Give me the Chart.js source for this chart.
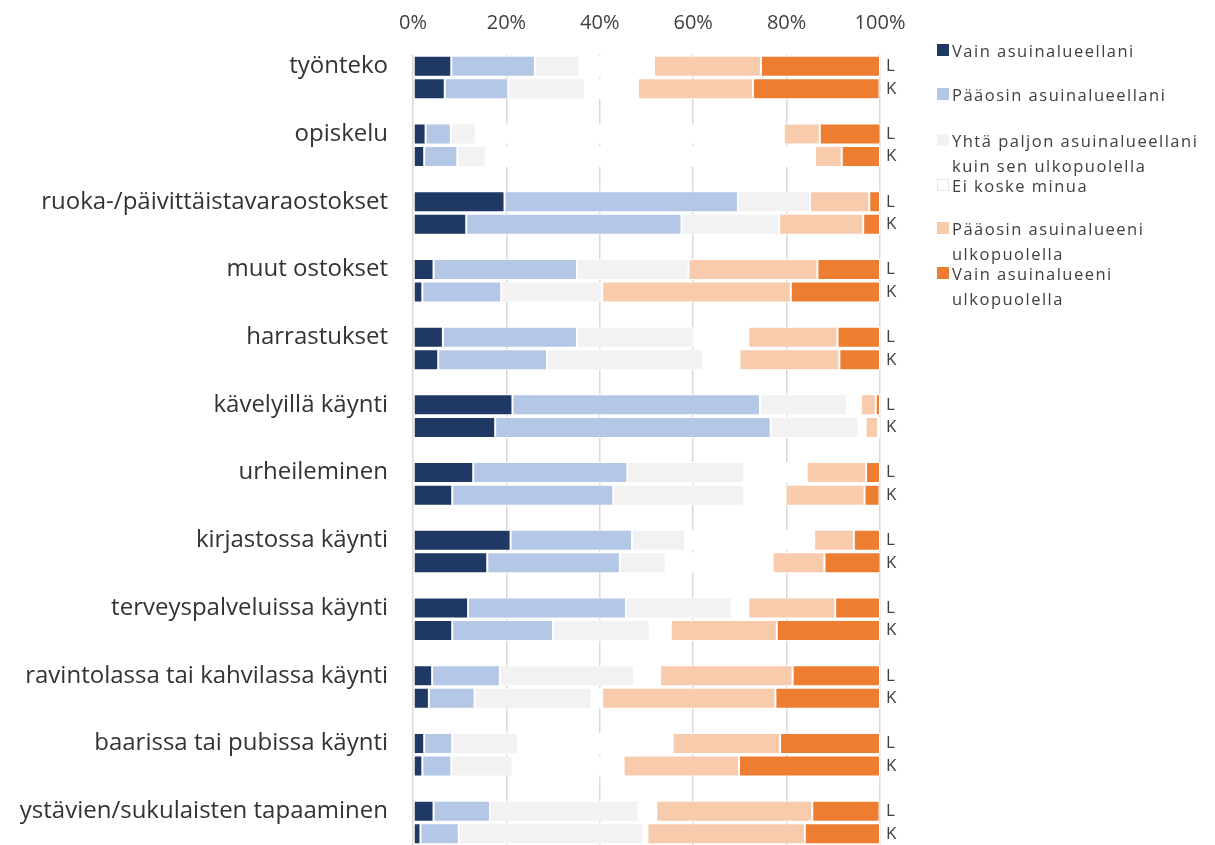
<!DOCTYPE html>
<html>
<head>
<meta charset="utf-8">
<script src="https://cdn.jsdelivr.net/npm/chart.js@4/dist/chart.umd.min.js"></script>
<style>
  html, body { margin: 0; padding: 0; background: #fff; overflow: hidden; }
  #wrap { position: relative; width: 1215px; height: 845px; }
  #c { position: absolute; left: 0; top: 0; }
  .lg { position: absolute; font-family: "Open Sans", sans-serif; font-size: 16.5px; line-height: 25px; color: #404040; white-space: pre; letter-spacing: 1.5px; }
  .sq { position: absolute; width: 12px; height: 12px; box-sizing: border-box; }
</style>
</head>
<body>
<div id="wrap">
  <canvas id="c" width="1215" height="845"></canvas>
</div>
<script>
// ---- DATA ----
const categories = [
  "työnteko", "opiskelu", "ruoka-/päivittäistavaraostokset", "muut ostokset",
  "harrastukset", "kävelyillä käynti", "urheileminen", "kirjastossa käynti",
  "terveyspalveluissa käynti", "ravintolassa tai kahvilassa käynti",
  "baarissa tai pubissa käynti", "ystävien/sukulaisten tapaaminen"
];
const groups = ["L", "K"];
const seriesNames = [
  "Vain asuinalueellani",
  "Pääosin asuinalueellani",
  "Yhtä paljon asuinalueellani\nkuin sen ulkopuolella",
  "Ei koske minua",
  "Pääosin asuinalueeni\nulkopuolella",
  "Vain asuinalueeni\nulkopuolella"
];
const xTicks = [0, 20, 40, 60, 80, 100];
// values in %, order: category1 L, category1 K, category2 L, category2 K, ...
const vainAsuinalueellani = [8.2, 6.8, 2.7, 2.4, 19.6, 11.4, 4.4, 2.0, 6.4, 5.4, 21.3, 17.6, 12.9, 8.4, 20.9, 15.9, 11.8, 8.4, 4.1, 3.4, 2.4, 2.0, 4.4, 1.6];
const paaosinAsuinalueellani = [17.9, 13.6, 5.4, 7.1, 50.0, 46.1, 30.7, 16.9, 28.7, 23.3, 53.0, 59.0, 33.0, 34.5, 26.0, 28.4, 33.8, 21.6, 14.5, 9.8, 6.0, 6.2, 12.1, 8.2];
const yhtaPaljon = [9.6, 16.4, 5.4, 6.1, 15.4, 20.9, 23.9, 21.6, 24.9, 33.4, 18.6, 18.8, 25.0, 28.0, 11.4, 9.8, 22.6, 20.7, 28.8, 25.0, 14.1, 13.1, 31.8, 39.6];
const eiKoskeMinua = [15.9, 11.4, 65.9, 70.5, 0, 0, 0, 0, 11.8, 7.8, 3.0, 1.5, 13.4, 8.9, 27.6, 22.9, 3.6, 4.5, 5.5, 2.3, 33.1, 23.8, 3.8, 0.8];
const paaosinUlkopuolella = [22.9, 24.6, 7.7, 5.7, 12.7, 18.0, 27.6, 40.4, 19.1, 21.4, 3.2, 2.7, 12.7, 16.9, 8.5, 11.1, 18.6, 22.7, 28.4, 37.1, 23.0, 24.7, 33.4, 33.7];
const vainUlkopuolella = [25.5, 27.1, 13.0, 8.2, 2.3, 3.6, 13.4, 19.1, 9.1, 8.7, 0.9, 0.4, 3.0, 3.2, 5.6, 12.0, 9.6, 22.1, 18.7, 22.4, 21.4, 30.2, 14.4, 16.1];

// ---- STYLE ----
const colors = ["#203864", "#b4c7e7", "#f2f2f2", "#ffffff", "#f8cbad", "#ed7d31"];
const allSeries = [vainAsuinalueellani, paaosinAsuinalueellani, yhtaPaljon, eiKoskeMinua, paaosinUlkopuolella, vainUlkopuolella];
const FONT = "'Open Sans', sans-serif";

// build rows: L, K, blank for each category (last blank dropped)
const leftLabels = [], rightLabels = [], rowIndex = [];
categories.forEach((c, i) => {
  groups.forEach((g, j) => {
    leftLabels.push(j === 0 ? c : "");
    rightLabels.push(g);
    rowIndex.push(i * 2 + j);
  });
  if (i < categories.length - 1) { leftLabels.push(""); rightLabels.push(""); rowIndex.push(null); }
});

const datasets = allSeries.map((arr, s) => ({
  label: seriesNames[s].replace("\n", " "),
  data: rowIndex.map(r => r === null ? null : arr[r]),
  backgroundColor: colors[s],
  borderColor: "#ffffff",
  borderWidth: 1,
  borderSkipped: false,
  categoryPercentage: 1.0,
  barPercentage: 0.93,
  yAxisID: "y"
}));

const noPad = s => { s.paddingTop = 0; s.paddingBottom = 0; };

new Chart(document.getElementById("c"), {
  type: "bar",
  data: { labels: leftLabels, datasets },
  options: {
    indexAxis: "y",
    responsive: false,
    animation: false,
    layout: { padding: { left: 0, right: 305, top: 0, bottom: 0 } },
    plugins: { legend: { display: false }, tooltip: { enabled: false } },
    scales: {
      x: {
        position: "top",
        stacked: true,
        min: 0, max: 100,
        afterBuildTicks: s => { s.ticks = xTicks.map(v => ({ value: v })); },
        ticks: { callback: v => v + "%", font: { family: FONT, size: 20 }, color: "#404040", padding: 20, maxRotation: 0 },
        grid: { color: "#d9d9d9", lineWidth: 1.5, drawTicks: false },
        border: { display: false },
        afterFit: s => { s.height = 55; s.paddingLeft = 0; s.paddingRight = 0; }
      },
      y: {
        stacked: true,
        position: "left",
        ticks: { autoSkip: false, font: { family: FONT, size: 24 }, color: "#333333", padding: 25 },
        grid: { display: false, drawTicks: false },
        border: { display: false },
        afterFit: s => { s.width = 413; noPad(s); }
      },
      y2: {
        type: "category",
        position: "right",
        labels: rightLabels,
        offset: true,
        ticks: { autoSkip: false, font: { family: FONT, size: 17 }, color: "#404040", padding: 6 },
        grid: { display: false, drawTicks: false },
        border: { display: false },
        afterFit: s => { s.width = 30; noPad(s); }
      }
    }
  }
});

// ---- HTML legend ----
const legendCenters = [50, 94, 140, 185, 228, 273];
const wrap = document.getElementById("wrap");
seriesNames.forEach((name, i) => {
  const sq = document.createElement("div");
  sq.className = "sq";
  sq.style.left = "937px";
  sq.style.top = (legendCenters[i] - 6) + "px";
  sq.style.background = colors[i];
  if (i === 3) sq.style.border = "1px solid #e6e6e6";
  wrap.appendChild(sq);
  const t = document.createElement("div");
  t.className = "lg";
  t.style.left = "952px";
  t.style.top = (legendCenters[i] - 12.5) + "px";
  t.textContent = name;
  wrap.appendChild(t);
});
</script>
</body>
</html>
